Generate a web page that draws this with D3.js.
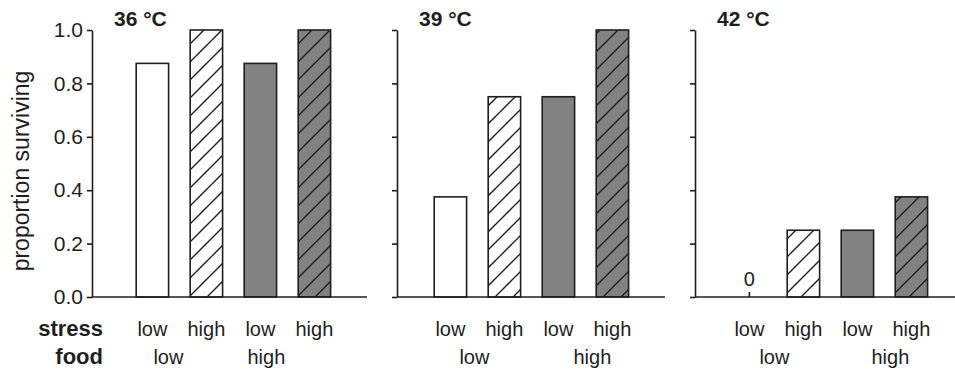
<!DOCTYPE html>
<html lang="en">
  <head>
    <meta charset="UTF-8" />
    <title>Proportion surviving</title>
    <script src="https://cdn.jsdelivr.net/npm/d3@7"></script>
    <style>
      body { margin: 0; background: #fff; }
      svg { font-family: "Liberation Sans", Arial, sans-serif; }
    </style>
  </head>
  <body>
    <script>
      // data
      const temperatures = ["36 °C", "39 °C", "42 °C"];
      const stressLevels = ["low", "high", "low", "high"];
      const foodLevels = ["low", "high"];
      const survival36 = [0.875, 1.0, 0.875, 1.0];
      const survival39 = [0.375, 0.75, 0.75, 1.0];
      const survival42 = [0, 0.25, 0.25, 0.375];
      const yTicks = [0, 0.2, 0.4, 0.6, 0.8, 1.0];

      const series = [survival36, survival39, survival42];
      const width = 955;
      const height = 371;

      // panel layout (pixels)
      const panels = [
        { axisX: 92, axisEnd: 367, bandStart: 120, foodShift: [-11, -21] },
        { axisX: 397, axisEnd: 665, bandStart: 418, foodShift: [-3, 7] },
        { axisX: 695, axisEnd: 955, bandStart: 717, foodShift: [-2, 6] },
      ];
      const ink = "#1e1e1e";
      const grey = "#828282";

      const svg = d3
        .select("body")
        .append("svg")
        .attr("width", width)
        .attr("height", height);

      // hatch pattern for high stress bars
      const defs = svg.append("defs");
      ["white", grey].forEach((bg, i) => {
        const p = defs
          .append("pattern")
          .attr("id", `hatch${i}`)
          .attr("patternUnits", "userSpaceOnUse")
          .attr("width", 18)
          .attr("height", 18);
        p.append("rect").attr("width", 18).attr("height", 18).attr("fill", bg);
        p.append("path")
          .attr("d", "M-2,20 L20,-2 M-2,2 L2,-2 M16,20 L20,16")
          .attr("stroke", ink)
          .attr("stroke-width", 1.4);
      });

      const y = d3.scaleLinear().domain([0, 1]).range([297, 30]);

      const fills = ["white", "url(#hatch0)", grey, "url(#hatch1)"];

      panels.forEach((pn, pi) => {
        const values = series[pi];
        const x = d3
          .scaleBand()
          .domain(d3.range(stressLevels.length))
          .range([pn.bandStart, pn.bandStart + 54 * 4.2])
          .paddingInner(0.4)
          .paddingOuter(0.3);

        const g = svg.append("g");

        // y axis
        const axis = d3
          .axisLeft(y)
          .tickValues(yTicks)
          .tickSize(5)
          .tickSizeOuter(0)
          .tickPadding(4)
          .tickFormat(pi === 0 ? d3.format(".1f") : () => "");
        const ya = g
          .append("g")
          .attr("transform", `translate(${pn.axisX},0)`)
          .call(axis);
        ya.select(".domain").attr("stroke", ink).attr("stroke-width", 1.6);
        ya.selectAll(".tick line").attr("stroke", ink).attr("stroke-width", 1.6);
        ya.selectAll(".tick text")
          .attr("fill", ink)
          .style("font-size", "21px");

        // bars
        g.selectAll("rect.bar")
          .data(values.map((v, i) => ({ v, i })).filter((d) => d.v > 0))
          .join("rect")
          .attr("class", "bar")
          .attr("x", (d) => x(d.i))
          .attr("width", x.bandwidth())
          .attr("y", (d) => y(d.v))
          .attr("height", (d) => y(0) - y(d.v))
          .attr("fill", (d) => fills[d.i])
          .attr("stroke", ink)
          .attr("stroke-width", 1.6);

        // zero values: small mark and label
        values.forEach((v, i) => {
          if (v !== 0) return;
          const cx = x(i) + x.bandwidth() / 2;
          g.append("line")
            .attr("x1", cx)
            .attr("x2", cx)
            .attr("y1", y(0))
            .attr("y2", y(0) - 5)
            .attr("stroke", ink)
            .attr("stroke-width", 1.6);
          g.append("text")
            .attr("x", cx)
            .attr("y", y(0) - 11)
            .attr("text-anchor", "middle")
            .attr("fill", ink)
            .style("font-size", "20px")
            .text("0");
        });

        // x axis line
        g.append("line")
          .attr("x1", pn.axisX)
          .attr("x2", pn.axisEnd)
          .attr("y1", y(0))
          .attr("y2", y(0))
          .attr("stroke", ink)
          .attr("stroke-width", 1.6);

        // title
        g.append("text")
          .attr("x", pn.axisX + 22)
          .attr("y", 26)
          .attr("fill", ink)
          .style("font-size", "21px")
          .style("font-weight", "bold")
          .text(temperatures[pi]);

        // stress labels
        g.selectAll("text.stress")
          .data(stressLevels)
          .join("text")
          .attr("class", "stress")
          .attr("x", (d, i) => x(i) + x.bandwidth() / 2)
          .attr("y", 336)
          .attr("text-anchor", "middle")
          .attr("fill", ink)
          .style("font-size", "20px")
          .text((d) => d);

        // food labels
        g.selectAll("text.food")
          .data(foodLevels)
          .join("text")
          .attr("class", "food")
          .attr(
            "x",
            (d, i) => (x(2 * i) + x(2 * i + 1) + x.bandwidth()) / 2 + pn.foodShift[i]
          )
          .attr("y", 364)
          .attr("text-anchor", "middle")
          .attr("fill", ink)
          .style("font-size", "20px")
          .text((d) => d);
      });

      // row headers
      [["stress", 336], ["food", 364]].forEach(([t, yy]) => {
        svg
          .append("text")
          .attr("x", 103)
          .attr("y", yy)
          .attr("text-anchor", "end")
          .attr("fill", ink)
          .style("font-size", "22px")
          .style("font-weight", "bold")
          .text(t);
      });

      // y axis title
      svg
        .append("text")
        .attr("transform", `translate(29,171) rotate(-90)`)
        .attr("text-anchor", "middle")
        .attr("fill", ink)
        .style("font-size", "23px")
        .text("proportion surviving");
    </script>
  </body>
</html>
